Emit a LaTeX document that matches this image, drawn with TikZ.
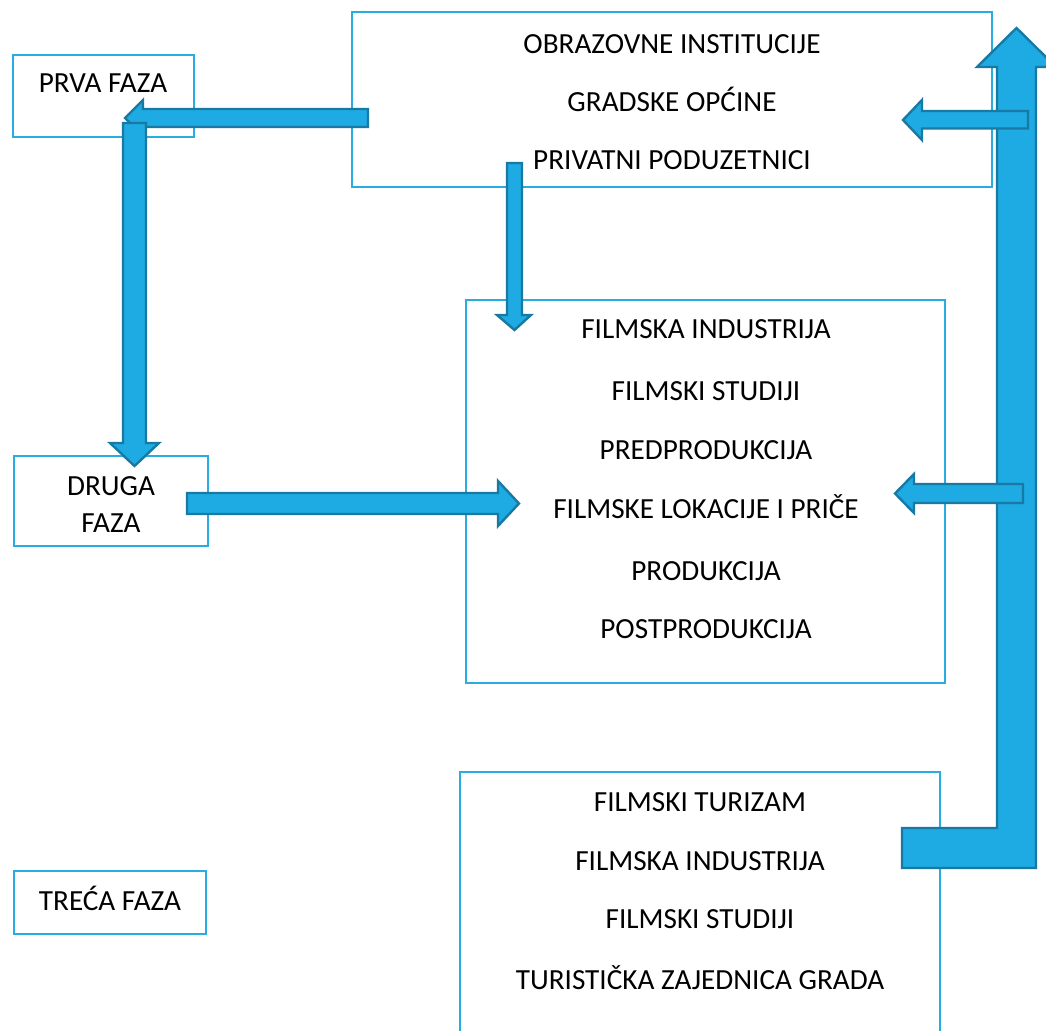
\documentclass[tikz,border=0pt]{standalone}
\usepackage{fontspec}
\setmainfont{Carlito}
\definecolor{linija}{RGB}{41,172,226}
\definecolor{plava}{RGB}{30,170,226}
\definecolor{tamna}{RGB}{24,122,162}

\begin{document}
\begin{tikzpicture}[x=0.5pt, y=-0.5pt]
            \tikzset{okvir/.style={draw=linija, line width=1pt},
                     blok/.style={fill=plava, draw=tamna, line width=1.2pt, line join=miter},
                     tekst/.style={anchor=base, inner sep=0pt, font=\fontsize{14.6}{17}\selectfont}}
            \clip (0,0) rectangle (1046,1031);

            % okviri
            \draw[okvir] (13,55) rectangle (194,137);
            \draw[okvir] (352,12) rectangle (992,187);
            \draw[okvir] (466,300) rectangle (945,683);
            \draw[okvir] (14,456) rectangle (208,546);
            \draw[okvir] (460,772) rectangle (940,1045);
            \draw[okvir] (14,871) rectangle (206,934);

            % tekst
            \node[tekst] (prva) at (103,93) {PRVA FAZA};
            \node[tekst] (druga1) at (111,496) {DRUGA};
            \node[tekst] (druga2) at (111,533) {FAZA};
            \node[tekst] (treca) at (110,911) {TREĆA FAZA};

            \node[tekst] (obrazovne) at (672,54) {OBRAZOVNE INSTITUCIJE};
            \node[tekst] (opcine) at (672,112) {GRADSKE OPĆINE};
            \node[tekst] (poduzetnici) at (672,170) {PRIVATNI PODUZETNICI};

            \node[tekst] (industrija) at (706,339) {FILMSKA INDUSTRIJA};
            \node[tekst] (studiji) at (706,401) {FILMSKI STUDIJI};
            \node[tekst] (predprodukcija) at (706,460) {PREDPRODUKCIJA};
            \node[tekst] (lokacije) at (706,519) {FILMSKE LOKACIJE I PRIČE};
            \node[tekst] (produkcija) at (706,581) {PRODUKCIJA};
            \node[tekst] (postprodukcija) at (706,639) {POSTPRODUKCIJA};

            \node[tekst] (turizam) at (700,812) {FILMSKI TURIZAM};
            \node[tekst] (industrija2) at (700,871) {FILMSKA INDUSTRIJA};
            \node[tekst] (studiji2) at (700,929) {FILMSKI STUDIJI};
            \node[tekst] (zajednica) at (700,990) {TURISTIČKA ZAJEDNICA GRADA};

            % strelice
            \draw[blok] (368,109) -- (143,109) -- (143,100) -- (125,118) -- (143,136) -- (143,127) -- (368,127) -- cycle;
            \draw[blok] (123,123) -- (146,123) -- (146,443) -- (159,443) -- (134.5,466) -- (110,443) -- (123,443) -- cycle;
            \draw[blok] (187,493) -- (498,493) -- (498,481) -- (519,503.5) -- (498,526) -- (498,514) -- (187,514) -- cycle;
            \draw[blok] (507,163) -- (522,163) -- (522,315) -- (531,315) -- (514.5,330) -- (497,315) -- (507,315) -- cycle;
            \draw[blok] (902,828) -- (997,828) -- (997,67) -- (977,67) -- (1016.5,28) -- (1056,67) -- (1036,67) -- (1036,868) -- (902,868) -- cycle;
            \draw[blok] (1028,111) -- (922,111) -- (922,100) -- (903,120) -- (922,140) -- (922,128.5) -- (1028,128.5) -- cycle;
            \draw[blok] (1023,484) -- (914,484) -- (914,474) -- (895,493.5) -- (914,513) -- (914,503) -- (1023,503) -- cycle;
\end{tikzpicture}
\end{document}
